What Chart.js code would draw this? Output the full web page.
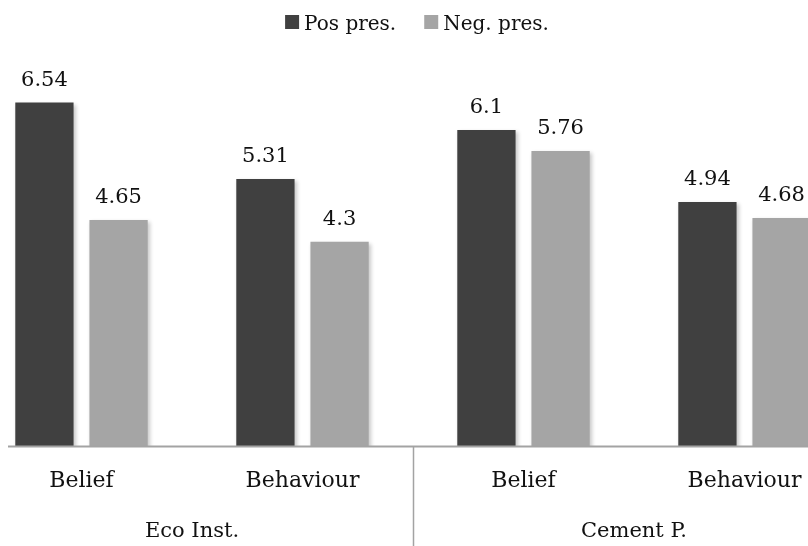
<!DOCTYPE html>
<html>
<head>
<meta charset="utf-8">
<title>Belief and behaviour by pressure</title>
<script src="https://cdn.jsdelivr.net/npm/chart.js@4.4.1/dist/chart.umd.min.js"></script>
<style>
    html, body { margin:0; padding:0; background:#fff; overflow:hidden; }
    body { width:808px; height:546px; position:relative; }
    /* canvas is wider than the window: the original crops the outer categories */
    #wrap { position:absolute; left:-40px; top:0; width:900px; height:600px; }
</style>
</head>
<body>
<div id="wrap"><canvas id="pressureChart"></canvas></div>
<script>

/* ==========================
   DATA
========================== */

const categories = ["Belief", "Behaviour", "Belief", "Behaviour"];
const groups = ["Eco Inst.", "Cement P."];
const seriesNames = ["Pos pres.", "Neg. pres."];
const posPres = [6.54, 5.31, 6.1, 4.94];
const negPres = [4.65, 4.3, 5.76, 4.68];

const FONT = "'DejaVu Serif', 'Liberation Serif', serif";
const TEXT = "#111";
const AXIS = "#a3a3a3";

/* ==========================
   PLUGINS
========================== */

// soft shadow under the bars
const barShadow = {
    id: "barShadow",
    beforeDatasetsDraw(chart){
        const ctx = chart.ctx;
        ctx.save();
        ctx.shadowColor = "rgba(0,0,0,.22)";
        ctx.shadowBlur = 4;
        ctx.shadowOffsetX = 2;
        ctx.shadowOffsetY = 2;
    },
    afterDatasetsDraw(chart){
        chart.ctx.restore();
    }
};

// numbers above each bar
const valueLabels = {
    id: "valueLabels",
    afterDatasetsDraw(chart){
        const ctx = chart.ctx;
        ctx.save();
        ctx.font = "21px " + FONT;
        ctx.fillStyle = TEXT;
        ctx.textAlign = "center";
        ctx.textBaseline = "alphabetic";
        chart.data.datasets.forEach((ds, i) => {
            chart.getDatasetMeta(i).data.forEach((bar, j) => {
                ctx.fillText(String(ds.data[j]), bar.x, bar.y - 17);
            });
        });
        ctx.restore();
    }
};

// legend drawn by hand so the box/text spacing matches
const topLegend = {
    id: "topLegend",
    afterDraw(chart){
        const ctx = chart.ctx;
        const area = chart.chartArea;
        ctx.save();
        ctx.font = "20px " + FONT;
        const box = 14, gapText = 5, gapItem = 28;
        const widths = chart.data.datasets.map(ds => ctx.measureText(ds.label).width);
        const total = widths.reduce((a, w) => a + box + gapText + w, 0) + gapItem * (widths.length - 1);
        let x = (area.left + area.right) / 2 - total / 2 + 4;
        const baseY = 30;
        chart.data.datasets.forEach((ds, i) => {
            ctx.fillStyle = ds.backgroundColor;
            ctx.fillRect(x, baseY - 15, box, box);
            ctx.fillStyle = TEXT;
            ctx.textBaseline = "alphabetic";
            ctx.fillText(ds.label, x + box + gapText, baseY);
            x += box + gapText + widths[i] + gapItem;
        });
        ctx.restore();
    }
};

// axis line, group divider and group names
const groupAxis = {
    id: "groupAxis",
    afterDraw(chart){
        const ctx = chart.ctx;
        const xs = chart.scales.x;
        const ys = chart.scales.y;
        const base = ys.getPixelForValue(ys.min);
        ctx.save();

        ctx.strokeStyle = AXIS;
        ctx.lineWidth = 2;
        ctx.beginPath();
        ctx.moveTo(xs.left + 37, base);
        ctx.lineTo(chart.width, base);
        ctx.stroke();

        const divX = Math.round((xs.getPixelForValue(1) + xs.getPixelForValue(2)) / 2) + .5;
        ctx.lineWidth = 1.5;
        ctx.beginPath();
        ctx.moveTo(divX, base);
        ctx.lineTo(divX, chart.height);
        ctx.stroke();

        ctx.font = "21px " + FONT;
        ctx.fillStyle = TEXT;
        ctx.textAlign = "center";
        ctx.textBaseline = "alphabetic";
        groups.forEach((g, k) => {
            const cx = (xs.getPixelForValue(2 * k) + xs.getPixelForValue(2 * k + 1)) / 2;
            ctx.fillText(g, cx, base + 90);
        });
        ctx.restore();
    }
};

/* ==========================
   CHART
========================== */

const canvas = document.getElementById("pressureChart");

new Chart(canvas, {

    type: "bar",

    data: {
        labels: categories,
        datasets: [
            {
                label: seriesNames[0],
                data: posPres,
                backgroundColor: "#404040"
            },
            {
                label: seriesNames[1],
                data: negPres,
                backgroundColor: "#a5a5a5"
            }
        ]
    },

    options: {
        responsive: true,
        maintainAspectRatio: false,
        animation: false,
        categoryPercentage: .671,
        barPercentage: .786,
        layout: {
            padding: { left: 11, right: 5, top: 74, bottom: 85 }
        },
        plugins: {
            legend: { display: false },
            tooltip: { enabled: false }
        },
        scales: {
            x: {
                grid: { display: false, drawTicks: false },
                border: { display: false },
                ticks: {
                    padding: 21,
                    color: TEXT,
                    font: { family: FONT, size: 22 }
                }
            },
            y: {
                display: false,
                min: 1,
                max: 7
            }
        }
    },

    plugins: [barShadow, valueLabels, topLegend, groupAxis]

});

</script>
</body>
</html>
